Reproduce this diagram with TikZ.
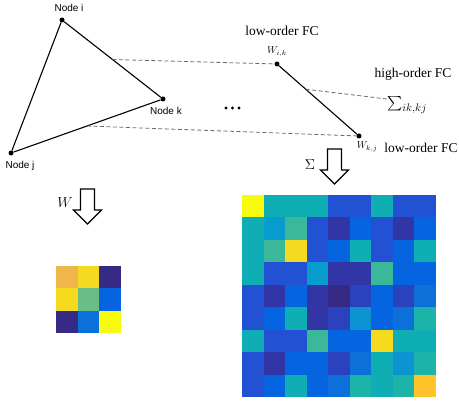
\documentclass[tikz,border=0pt]{standalone}
\usepackage{amsmath}
\usepackage{fontspec}
\setmainfont{Liberation Serif}
\newfontfamily\labelfont{Liberation Sans}
\usetikzlibrary{calc}

% parula-like colours of the two heat maps
\definecolor{hmY}{HTML}{F9FB0E}
\definecolor{hmS}{HTML}{F5DA1F}
\definecolor{hmO}{HTML}{FEC32A}
\definecolor{hmA}{HTML}{F0B64A}
\definecolor{hmT}{HTML}{0FAEB5}
\definecolor{hmE}{HTML}{1CB3A9}
\definecolor{hmC}{HTML}{089CCE}
\definecolor{hmK}{HTML}{0C93D2}
\definecolor{hmG}{HTML}{3BB89A}
\definecolor{hmH}{HTML}{6ABE85}
\definecolor{hmB}{HTML}{2251D3}
\definecolor{hmP}{HTML}{2B42BE}
\definecolor{hmM}{HTML}{0565E0}
\definecolor{hmL}{HTML}{0B70D9}
\definecolor{hmD}{HTML}{3235A6}
\definecolor{hmV}{HTML}{362A85}

\tikzset{
  fatarrow/.pic={
    \draw[line width=1.1pt,fill=white] (-7,0) -- (7,0) -- (7,21) -- (14,21) -- (0,35)
      -- (-14,21) -- (-7,21) -- cycle;
  }
}

\begin{document}
\begin{tikzpicture}[x=1pt,y=-1pt,
  dot/.style={circle,fill=black,inner sep=0pt,minimum size=5pt},
  nodelbl/.style={font=\fontsize{10}{12}\selectfont\labelfont},
  fclbl/.style={font=\fontsize{13.5}{16}\selectfont,inner sep=1pt},
  wlbl/.style={font=\fontsize{10}{12}\selectfont,inner sep=1pt},
  biglbl/.style={font=\fontsize{15}{18}\selectfont,inner sep=1pt},
  edge/.style={line width=1.1pt},
  link/.style={gray!85!black,line width=0.8pt,dash pattern=on 4pt off 2.5pt}]
  \useasboundingbox (0,0) rectangle (459,401);

  % the triangle
  \node[dot] (i) at (62,20) {};
  \node[dot] (k) at (163,99) {};
  \node[dot] (j) at (11,153) {};
  \node[nodelbl] (ilbl) at (69,8) {Node i};
  \node[nodelbl] (klbl) at (166,111) {Node k};
  \node[nodelbl] (jlbl) at (20,166) {Node j};
  \draw[edge] (i) -- (k) -- (j) -- (i);

  % the dots between
  \foreach \x in {226,232.5,239}
    \fill (\x,108) circle (1.6pt);

  % low- and high-order FC
  \node[dot] (wik) at (277,64) {};
  \node[dot] (wkj) at (359,136) {};
  \node[wlbl] (wiklbl) at (277,52) {$W_{i,k}$};
  \node[wlbl] (wkjlbl) at (367,147) {$W_{k,j}$};
  \node[fclbl] (lowup) at (282,31) {low-order FC};
  \node[fclbl] (high) at (413,74) {high-order FC};
  \node[fclbl] (lowdn) at (421,148) {low-order FC};
  \node[biglbl,anchor=west,inner sep=0pt] (sumhi) at (387,105) {$\sum_{ik,kj}$};
  \draw[edge] (wik) -- (wkj);
  \coordinate (mid) at ($(wik)!0.35!(wkj)$);
  \draw[link] ($(i)!0.5!(k)$) -- (wik);
  \draw[link] ($(j)!0.5!(k)$) -- (wkj);
  \draw[link] (mid) -- ($(sumhi.west)+(0,-6)$);

  % arrows
  \pic at (87.5,189) {fatarrow};
  \node[biglbl] (wsym) at (65,203) {$W$};
  \pic at (334.5,149) {fatarrow};
  \node[biglbl] (ssym) at (310,165) {$\Sigma$};

  % W matrix
  \foreach \row [count=\r] in {{A,S,V},{S,H,M},{V,L,Y}}
    \foreach \c [count=\k] in \row
      \fill[hm\c] ({56+21.5*(\k-1)},{266+22.5*(\r-1)}) rectangle +(21.5,22.5);

  % Sigma matrix
  \foreach \row [count=\r] in {
      {Y,T,T,T,B,B,T,B,B},
      {T,C,G,B,D,M,B,D,M},
      {T,G,S,B,M,T,B,M,T},
      {T,B,B,C,D,D,G,M,M},
      {B,D,M,D,V,P,M,P,L},
      {B,M,T,D,P,K,M,L,E},
      {T,B,B,G,M,M,S,T,T},
      {B,D,M,M,P,L,T,K,E},
      {B,M,T,M,L,E,T,E,O}}
    \foreach \c [count=\k] in \row
      \fill[hm\c] ({242+21.5*(\k-1)},{195+22.5*(\r-1)}) rectangle +(21.5,22.5);
\end{tikzpicture}
\end{document}
